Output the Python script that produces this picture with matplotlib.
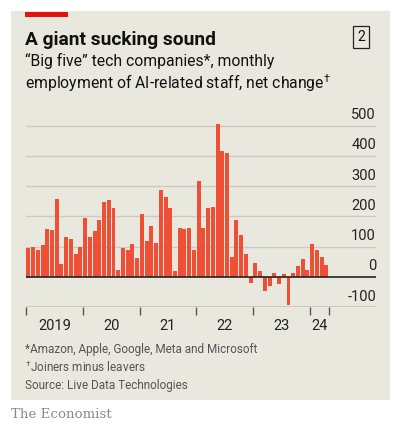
import matplotlib.pyplot as plt
import matplotlib.patches as mpatches
import numpy as np

plt.rcParams['font.family'] = ['Roboto', 'DejaVu Sans']
plt.rcParams['mathtext.fontset'] = 'custom'
plt.rcParams['mathtext.rm'] = 'Roboto'

# monthly net change, Jan 2019 - Apr 2024
y2019 = [95, 97, 90, 105, 158, 155, 259, 41, 131, 126, 77, 98]
y2020 = [194, 130, 151, 189, 249, 254, 226, 22, 96, 89, 109, 61]
y2021 = [207, 120, 168, 113, 286, 263, 227, 18, 161, 159, 162, 87]
y2022 = [317, 163, 228, 232, 504, 415, 408, 65, 189, 139, 74, -20]
y2023 = [46, 18, -47, -30, 12, -23, 9, -94, 11, 35, 58, 21]
y2024 = [107, 88, 65, 39]
values = y2019 + y2020 + y2021 + y2022 + y2023 + y2024

year_labels = ['2019', '20', '21', '22', '23', '24']
yticks = [-100, 0, 100, 200, 300, 400, 500]

bg = '#E9E8DF'
bar_color = '#EE4F35'

fig = plt.figure(figsize=(3.96, 4.33), dpi=100)
fig.patch.set_facecolor('white')

# panel background
W, H = 396, 433
fig.patches.append(mpatches.Rectangle((11 / W, 1 - 400 / H), 379 / W, 389 / H,
                                      transform=fig.transFigure, facecolor=bg, edgecolor='none', zorder=-2))
# red tag
fig.patches.append(mpatches.Rectangle((25 / W, 1 - 16.5 / H), 43 / W, 5 / H,
                                      transform=fig.transFigure, facecolor='#E3120B', edgecolor='none', zorder=-1))

ax = fig.add_axes([26 / W, 126 / H, 350 / W, 190.4 / H])
ax.patch.set_alpha(0)

x = np.arange(len(values))
ax.bar(x, values, width=0.84, color=bar_color, zorder=3)

ax.set_xlim(-0.5, 73.5)
ax.set_ylim(-100, 530)

# gridlines
for v in yticks:
    if v == 0:
        ax.axhline(v, color='#222222', lw=1.2, zorder=4)
    elif v == -100:
        ax.axhline(v, color='#555555', lw=1.0, zorder=4)
    else:
        ax.axhline(v, color='#CBC9C0', lw=1.0, zorder=1)
    ax.annotate(str(v), xy=(1.0, v), xycoords=('axes fraction', 'data'),
                xytext=(0, 2.5), textcoords='offset points',
                ha='right', va='bottom', fontsize=10.5, color='#222222')

for s in ax.spines.values():
    s.set_visible(False)
ax.set_yticks([])

# year ticks
tick_pos = [-0.5, 11.5, 23.5, 35.5, 47.5, 59.5, len(values) - 0.5]
ax.set_xticks(tick_pos)
ax.set_xticklabels([])
ax.tick_params(axis='x', length=6, width=1, color='#555555', direction='out')
label_pos = [5.5, 17.5, 29.5, 41.5, 53.5, 61.6]
for p, lab in zip(label_pos, year_labels):
    ax.annotate(lab, xy=(p, -100), xycoords='data', xytext=(0, -9), textcoords='offset points',
                ha='center', va='top', fontsize=10.5, color='#222222')

# titles
fig.text(25 / W, 1 - 40 / H, 'A giant sucking sound', fontsize=13.8, fontweight='bold',
         color='#111111', va='center', ha='left')
fig.text(361 / W, 1 - 37 / H, '2', fontsize=10, color='#111111', va='center', ha='center',
         bbox=dict(boxstyle='square,pad=0.3', facecolor='none', edgecolor='#222222', lw=0.9))
fig.text(25 / W, 1 - 61 / H, '\u201cBig five\u201d tech companies*, monthly', fontsize=11.3,
         color='#111111', va='center', ha='left')
fig.text(25 / W, 1 - 83 / H, 'employment of AI-related staff, net change$^{\u2020}$', fontsize=11.3,
         color='#111111', va='center', ha='left')

# footnotes
fig.text(25 / W, 1 - 350 / H, '*Amazon, Apple, Google, Meta and Microsoft', fontsize=8.5,
         color='#555555', va='center', ha='left')
fig.text(25 / W, 1 - 367 / H, '$^{\u2020}$Joiners minus leavers', fontsize=8.5,
         color='#555555', va='center', ha='left')
fig.text(25 / W, 1 - 385 / H, 'Source: Live Data Technologies', fontsize=8.5,
         color='#555555', va='center', ha='left')
fig.text(11 / W, 1 - 415 / H, 'The Economist', fontsize=9.6, family='DejaVu Serif',
         color='#8a8a8a', va='center', ha='left')

fig.savefig('out.png', dpi=100, facecolor=fig.get_facecolor())
